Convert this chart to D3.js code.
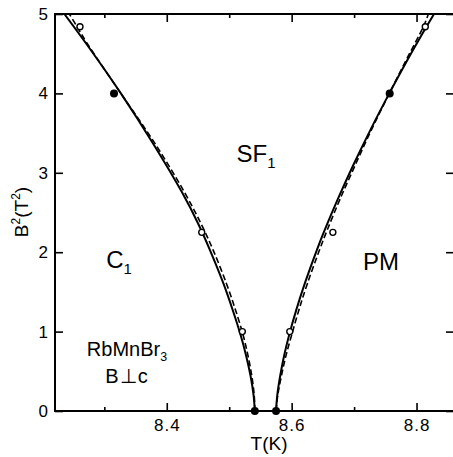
<!DOCTYPE html>
<html>
<head>
<meta charset="utf-8">
<script src="https://cdn.jsdelivr.net/npm/d3@7"></script>
<style>
  html, body { margin: 0; padding: 0; background: #fff; }
  svg { display: block; }
  text { font-family: "Liberation Sans", Arial, Helvetica, sans-serif; fill: #000; }
</style>
</head>
<body>
<svg id="chart" width="453" height="457"></svg>
<script>
// Axis extents and ticks
const xDomain = [8.221, 8.86];
const yDomain = [0, 5];
const xMajorTicks = [8.4, 8.6, 8.8];
const xMinorTicks = [8.3, 8.5, 8.7];
const yTicks = [0, 1, 2, 3, 4, 5];

// Phase boundary C1 / SF1 (low-temperature side)
const leftSolidT = [8.541, 8.539, 8.534, 8.527, 8.5185, 8.5065, 8.491, 8.469, 8.4515, 8.424, 8.378, 8.3265, 8.278, 8.236];
const leftSolidB = [0, 0.2, 0.45, 0.7, 0.95, 1.25, 1.6, 2.03, 2.34, 2.76, 3.37, 4.0, 4.55, 5.0];
const leftDashT = [8.541, 8.540, 8.536, 8.530, 8.5225, 8.511, 8.4958, 8.4741, 8.456, 8.428, 8.381, 8.3265, 8.2725, 8.2555, 8.244];
const leftDashB = [0, 0.2, 0.45, 0.7, 0.95, 1.25, 1.6, 2.03, 2.34, 2.76, 3.37, 4.0, 4.63, 4.85, 5.0];

// Phase boundary SF1 / PM (high-temperature side)
const rightSolidT = [8.575, 8.577, 8.5818, 8.588, 8.5961, 8.6073, 8.6212, 8.6405, 8.653, 8.6746, 8.7001, 8.7274, 8.7564, 8.7854, 8.8063, 8.828];
const rightSolidB = [0, 0.2, 0.45, 0.7, 0.96, 1.27, 1.61, 2.03, 2.28, 2.68, 3.12, 3.56, 4.0, 4.42, 4.71, 5.0];
const rightDashT = [8.575, 8.5778, 8.5838, 8.591, 8.6001, 8.6115, 8.6254, 8.6447, 8.657, 8.6781, 8.7031, 8.7289, 8.7564, 8.7834, 8.8115, 8.819];
const rightDashB = [0, 0.2, 0.45, 0.7, 0.96, 1.27, 1.61, 2.03, 2.28, 2.68, 3.12, 3.56, 4.0, 4.42, 4.85, 5.0];

// Measured transition points
const filledT = [8.541, 8.575, 8.3155, 8.757];
const filledB = [0, 0, 4.0, 4.0];
const openT = [8.261, 8.456, 8.521, 8.597, 8.666, 8.814];
const openB = [4.84, 2.25, 1.0, 1.0, 2.25, 4.84];

const svg = d3.select("#chart");
const plotL = 55, plotR = 454, plotT = 14, plotB = 411;

const x = d3.scaleLinear().domain(xDomain).range([plotL, plotR]);
const y = d3.scaleLinear().domain(yDomain).range([plotB, plotT]);

svg.append("defs").append("clipPath").attr("id", "plot")
  .append("rect").attr("x", plotL).attr("y", plotT)
  .attr("width", plotR - plotL).attr("height", plotB - plotT);

const tickFont = 17;

// bottom axis: major ticks with labels, minor ticks without
svg.append("g").attr("class", "xlab").attr("transform", `translate(0,${plotB})`)
  .call(d3.axisBottom(x).tickValues(xMajorTicks).tickSize(-8).tickSizeOuter(0).tickPadding(8).tickFormat(d3.format(".1f")));
svg.append("g").attr("transform", `translate(0,${plotB})`)
  .call(d3.axisBottom(x).tickValues(xMinorTicks).tickSize(-4).tickSizeOuter(0).tickFormat(""));
// top axis mirrors ticks
svg.append("g").attr("transform", `translate(0,${plotT})`)
  .call(d3.axisTop(x).tickValues(xMajorTicks).tickSize(-8).tickSizeOuter(0).tickFormat(""));
svg.append("g").attr("transform", `translate(0,${plotT})`)
  .call(d3.axisTop(x).tickValues(xMinorTicks).tickSize(-4).tickSizeOuter(0).tickFormat(""));
// left axis with labels, right axis mirrored
svg.append("g").attr("transform", `translate(${plotL},0)`)
  .call(d3.axisLeft(y).tickValues(yTicks).tickSize(-8).tickSizeOuter(0).tickPadding(7).tickFormat(d3.format("d")));
svg.append("g").attr("transform", `translate(${plotR},0)`)
  .call(d3.axisRight(y).tickValues(yTicks).tickSize(-8).tickSizeOuter(0).tickFormat(""));

svg.selectAll(".domain").remove();
svg.selectAll(".tick line").attr("stroke", "#000").attr("stroke-width", 1.6);
svg.selectAll(".tick text").attr("font-size", tickFont)
  .style("font-family", '"Liberation Sans", Arial, sans-serif').attr("fill", "#000");
svg.selectAll(".xlab .tick text").style("letter-spacing", "1px");

// frame
svg.append("rect").attr("x", plotL).attr("y", plotT)
  .attr("width", plotR - plotL).attr("height", plotB - plotT)
  .attr("fill", "none").attr("stroke", "#000").attr("stroke-width", 2);

// boundary curves
const line = d3.line().x(d => x(d[0])).y(d => y(d[1])).curve(d3.curveCatmullRom.alpha(0.5));
const zip = (a, b) => a.map((v, i) => [v, b[i]]);
const curves = svg.append("g").attr("clip-path", "url(#plot)");

[[leftDashT, leftDashB], [rightDashT, rightDashB]].forEach(([t, b]) => {
  curves.append("path").datum(zip(t, b)).attr("d", line)
    .attr("fill", "none").attr("stroke", "#000").attr("stroke-width", 1.6)
    .attr("stroke-dasharray", "6,3");
});
[[leftSolidT, leftSolidB], [rightSolidT, rightSolidB]].forEach(([t, b]) => {
  curves.append("path").datum(zip(t, b)).attr("d", line)
    .attr("fill", "none").attr("stroke", "#000").attr("stroke-width", 2);
});

// data points
svg.append("g").selectAll("circle").data(zip(openT, openB)).join("circle")
  .attr("cx", d => x(d[0])).attr("cy", d => y(d[1])).attr("r", 3)
  .attr("fill", "#fff").attr("stroke", "#000").attr("stroke-width", 1.4);
svg.append("g").selectAll("circle").data(zip(filledT, filledB)).join("circle")
  .attr("cx", d => x(d[0])).attr("cy", d => y(d[1])).attr("r", 4)
  .attr("fill", "#000");

// axis titles
svg.append("text").attr("x", 269).attr("y", 450).attr("text-anchor", "middle")
  .attr("font-size", 19).text("T(K)");

const yl = svg.append("text").attr("transform", "translate(28,212) rotate(-90)")
  .attr("text-anchor", "middle").attr("font-size", 19);
yl.append("tspan").text("B");
yl.append("tspan").attr("font-size", 12).attr("dy", -8).text("2");
yl.append("tspan").attr("dy", 8).text("(T");
yl.append("tspan").attr("font-size", 12).attr("dy", -8).text("2");
yl.append("tspan").attr("dy", 8).text(")");

// phase labels
function subLabel(tx, ty, main, sub, size) {
  const t = svg.append("text").attr("x", tx).attr("y", ty)
    .attr("text-anchor", "middle").attr("font-size", size);
  t.append("tspan").text(main);
  if (sub) t.append("tspan").attr("font-size", size * 0.62).attr("dy", size * 0.25).text(sub);
  return t;
}
subLabel(256, 162, "SF", "1", 24);
subLabel(119, 268, "C", "1", 24);
subLabel(381, 270, "PM", null, 24);
subLabel(127, 356, "RbMnBr", "3", 20);
svg.append("text").attr("x", 127).attr("y", 383).attr("text-anchor", "middle")
  .attr("font-size", 20).style("letter-spacing", "1px").text("B\u22A5c");
</script>
</body>
</html>
